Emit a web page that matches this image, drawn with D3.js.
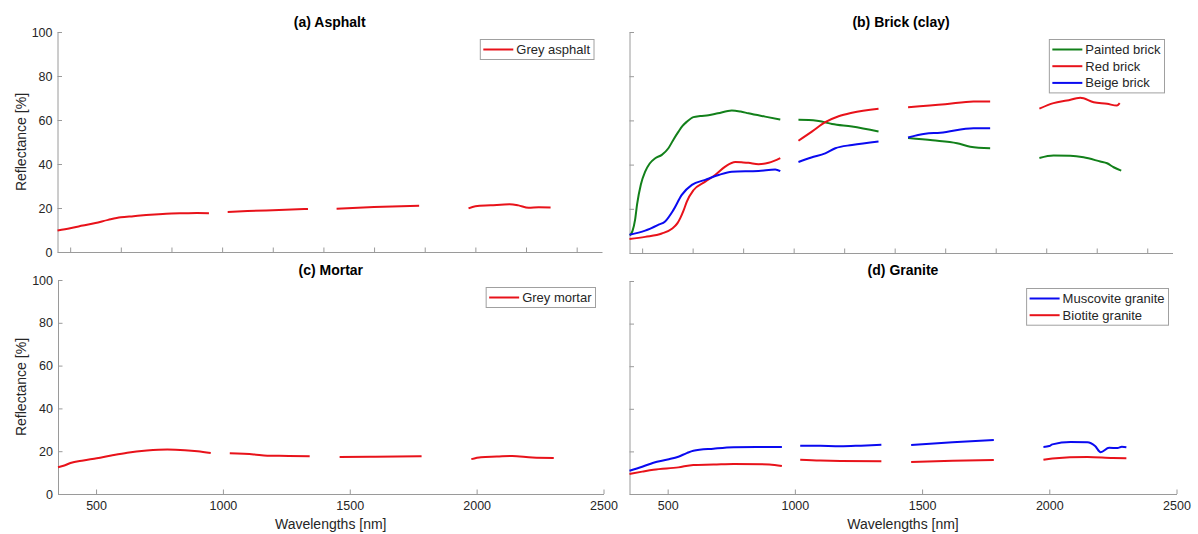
<!DOCTYPE html>
<meta charset="utf-8">
<style>
    body {
        margin: 0;
        background: #fff;
    }
    svg text {
        font-family: "Liberation Sans", Arial, sans-serif;
    }
    .axis path, .axis line {
        stroke: #9a9a9a;
    }
    .axis text {
        fill: #262626;
        font-size: 12.5px;
    }
    .spectrum {
        fill: none;
        stroke-width: 2;
        stroke-linejoin: round;
    }
</style>

<body>
    <script src="https://cdn.jsdelivr.net/npm/d3@7"></script>
    <script>
        // reflectance spectra, [wavelength nm, reflectance %], null = absorption gap
        var greyAsphalt = [
            [350, 9.8], [400, 10.8], [450, 12.0], [500, 13.2], [550, 14.6], [600, 15.8], [650, 16.3],
            [700, 16.8], [750, 17.2], [800, 17.5], [850, 17.6], [900, 17.7], [948, 17.6], null,
            [1022, 18.2], [1100, 18.6], [1200, 19.0], [1339, 19.6], null,
            [1452, 19.7], [1600, 20.4], [1778, 21.0], null,
            [1973, 19.8], [2000, 20.8], [2060, 21.2], [2135, 21.7], [2170, 21.2], [2210, 20.1], [2250, 20.3], [2297, 20.2]
        ]
        var paintedBrick = [
            [352, 8.0], [362, 10.0], [372, 15.0], [380, 22.0], [395, 31.0], [412, 36.8], [430, 40.5],
            [452, 42.9], [478, 44.4], [504, 47.4], [525, 51.5], [544, 54.9], [560, 57.5], [577, 59.4],
            [603, 61.5], [630, 62.0], [663, 62.3], [700, 63.2], [755, 64.5], [790, 64.0], [821, 63.2],
            [887, 61.7], [947, 60.4], null,
            [1019, 60.3], [1060, 60.2], [1099, 59.7], [1152, 58.4], [1231, 57.2], [1336, 55.0], null,
            [1453, 52.0], [1550, 51.0], [1647, 49.7], [1699, 48.1], [1778, 47.4], null,
            [1973, 43.0], [2029, 44.1], [2095, 44.0], [2148, 43.3], [2214, 41.4], [2241, 40.6], [2267, 38.8], [2297, 37.3]
        ]
        var redBrick = [
            [350, 6.3], [412, 7.3], [478, 8.8], [518, 11.0], [540, 13.5], [551, 15.8], [565, 19.5],
            [577, 23.3], [603, 28.4], [650, 32.3], [689, 35.3], [729, 39.1], [769, 41.2], [800, 41.0],
            [821, 40.8], [861, 40.2], [901, 40.8], [947, 42.9], null,
            [1019, 50.8], [1072, 54.9], [1125, 59.2], [1178, 61.9], [1231, 63.5], [1336, 65.3], null,
            [1453, 66.0], [1600, 67.3], [1712, 68.6], [1778, 68.6], null,
            [1973, 65.3], [2029, 67.8], [2082, 69.0], [2135, 70.2], [2188, 68.2], [2241, 67.5], [2280, 66.7], [2291, 67.8]
        ]
        var beigeBrick = [
            [350, 8.3], [412, 10.1], [465, 12.8], [491, 14.3], [524, 19.5], [557, 26.3], [597, 30.8],
            [650, 33.1], [703, 35.3], [755, 36.8], [861, 37.1], [927, 37.8], [947, 37.0], null,
            [1019, 41.2], [1070, 43.2], [1125, 45.1], [1165, 47.4], [1231, 48.9], [1336, 50.5], null,
            [1453, 52.3], [1521, 54.0], [1581, 54.4], [1712, 56.5], [1778, 56.5]
        ]
        var greyMortar = [
            [350, 12.5], [375, 13.3], [399, 14.5], [450, 15.7], [503, 16.7], [560, 18.0], [623, 19.3],
            [700, 20.3], [781, 20.8], [850, 20.5], [900, 20.0], [952, 19.2], null,
            [1027, 19.0], [1122, 18.5], [1175, 17.9], [1260, 17.8], [1342, 17.6], null,
            [1460, 17.3], [1600, 17.4], [1783, 17.6], null,
            [1979, 16.3], [2017, 17.2], [2080, 17.5], [2140, 17.8], [2220, 17.0], [2304, 16.8]
        ]
        var muscoviteGranite = [
            [350, 10.9], [400, 12.8], [444, 14.7], [500, 16.2], [542, 17.5], [575, 19.2], [601, 20.3],
            [680, 21.3], [759, 22.0], [850, 22.1], [949, 22.1], null,
            [1021, 22.7], [1100, 22.6], [1179, 22.4], [1260, 22.7], [1340, 23.1], null,
            [1457, 23.0], [1620, 24.3], [1782, 25.3], null,
            [1977, 22.1], [2000, 22.5], [2012, 23.3], [2084, 24.4], [2150, 24.3], [2180, 22.5],
            [2202, 19.6], [2235, 21.7], [2268, 21.6], [2285, 22.2], [2303, 22.0]
        ]
        var biotiteGranite = [
            [350, 9.4], [400, 10.5], [444, 11.4], [542, 12.5], [601, 13.6], [680, 13.8], [759, 14.1],
            [900, 13.9], [949, 13.1], null,
            [1021, 16.1], [1100, 15.7], [1179, 15.5], [1340, 15.4], null,
            [1457, 15.0], [1620, 15.6], [1782, 16.0], null,
            [1977, 16.1], [2012, 16.7], [2150, 17.4], [2250, 16.9], [2303, 16.8]
        ]

        var yTicks = [0, 20, 40, 60, 80, 100]
        var xTicksMinor = [400, 600, 800, 1000, 1200, 1400, 1600, 1800, 2000, 2200, 2400]
        var xTicksLabelled = [500, 1000, 1500, 2000, 2500]

        var red = '#e8121a', green = '#12801a', blue = '#0a0af0'

        var panels = [
            { title: '(a) Asphalt', x: [57.5, 602], y: [252, 32], titleY: 27, left: true, bottom: false,
              series: [{ name: 'Grey asphalt', data: greyAsphalt, color: red }] },
            { title: '(b) Brick (clay)', x: [629.5, 1172.5], y: [253, 32], titleY: 27, left: false, bottom: false,
              series: [
                  { name: 'Painted brick', data: paintedBrick, color: green },
                  { name: 'Red brick', data: redBrick, color: red },
                  { name: 'Beige brick', data: beigeBrick, color: blue }
              ] },
            { title: '(c) Mortar', x: [58, 603.5], y: [494, 280], titleY: 275, left: true, bottom: true,
              series: [{ name: 'Grey mortar', data: greyMortar, color: red }] },
            { title: '(d) Granite', x: [629.5, 1176.5], y: [494, 281], titleY: 275, left: false, bottom: true,
              series: [
                  { name: 'Muscovite granite', data: muscoviteGranite, color: blue },
                  { name: 'Biotite granite', data: biotiteGranite, color: red }
              ] }
        ]

        var svg = d3.select('body')
            .append('svg')
            .attr('width', 1198)
            .attr('height', 534)

        panels.forEach(function (p) {
            var x = d3.scaleLinear().domain([350, 2500]).range(p.x)
            var y = d3.scaleLinear().domain([0, 100]).range(p.y)
            var g = svg.append('g')

            var xAxis = d3.axisBottom(x)
                .tickValues(p.bottom ? xTicksLabelled : xTicksMinor)
                .tickSizeInner(-4.5).tickSizeOuter(0).tickPadding(7)
                .tickFormat(p.bottom ? d3.format('d') : '')
            g.append('g').attr('class', 'axis')
                .attr('transform', 'translate(0,' + p.y[0] + ')')
                .call(xAxis)

            var yAxis = d3.axisLeft(y)
                .tickValues(yTicks)
                .tickSizeInner(-4.5).tickSizeOuter(0).tickPadding(5)
                .tickFormat(p.left ? d3.format('d') : '')
            g.append('g').attr('class', 'axis')
                .attr('transform', 'translate(' + p.x[0] + ',0)')
                .call(yAxis)

            g.selectAll('.axis .domain').attr('stroke', '#9a9a9a')

            var line = d3.line()
                .defined(function (d) { return d !== null })
                .x(function (d) { return x(d[0]) })
                .y(function (d) { return y(d[1]) })
                .curve(d3.curveMonotoneX)

            g.selectAll('.spectrum')
                .data(p.series)
                .enter().append('path')
                .attr('class', 'spectrum')
                .attr('d', function (d) { return line(d.data) })
                .attr('stroke', function (d) { return d.color })

            g.append('text')
                .attr('x', (p.x[0] + p.x[1]) / 2)
                .attr('y', p.titleY)
                .attr('text-anchor', 'middle')
                .style('font-size', '14px')
                .style('font-weight', 'bold')
                .text(p.title)

            if (p.left) {
                g.append('text')
                    .attr('transform', 'translate(25.5,' + ((p.y[0] + p.y[1]) / 2) + ') rotate(-90)')
                    .attr('text-anchor', 'middle')
                    .style('font-size', '14px')
                    .style('fill', '#262626')
                    .text('Reflectance [%]')
            }
            if (p.bottom) {
                g.append('text')
                    .attr('x', (p.x[0] + p.x[1]) / 2)
                    .attr('y', 529)
                    .attr('text-anchor', 'middle')
                    .style('font-size', '14px')
                    .style('fill', '#262626')
                    .text('Wavelengths [nm]')
            }

            // legend, top right corner
            var rowH = 16.7
            var legend = g.append('g')
            var box = legend.append('rect')
                .attr('fill', '#fff')
                .attr('stroke', '#a0a0a0')
                .attr('stroke-width', 1)
            var rows = legend.selectAll('.row')
                .data(p.series)
                .enter().append('g')
                .attr('transform', function (d, i) { return 'translate(0,' + (10 + i * rowH) + ')' })
            rows.append('line')
                .attr('x1', 3).attr('x2', 33)
                .attr('stroke', function (d) { return d.color })
                .attr('stroke-width', 2)
            rows.append('text')
                .attr('x', 36)
                .attr('dy', '0.35em')
                .style('font-size', '13px')
                .style('fill', '#262626')
                .text(function (d) { return d.name })

            var textW = d3.max(rows.selectAll('text').nodes(), function (n) { return n.getComputedTextLength() })
            var w = 36 + textW + 4
            var h = p.series.length * rowH + 3.3
            box.attr('width', w).attr('height', h)
            legend.attr('transform', 'translate(' + (p.x[1] - 8 - w) + ',' + (p.y[1] + 7.5) + ')')
        })
    </script>
</body>
